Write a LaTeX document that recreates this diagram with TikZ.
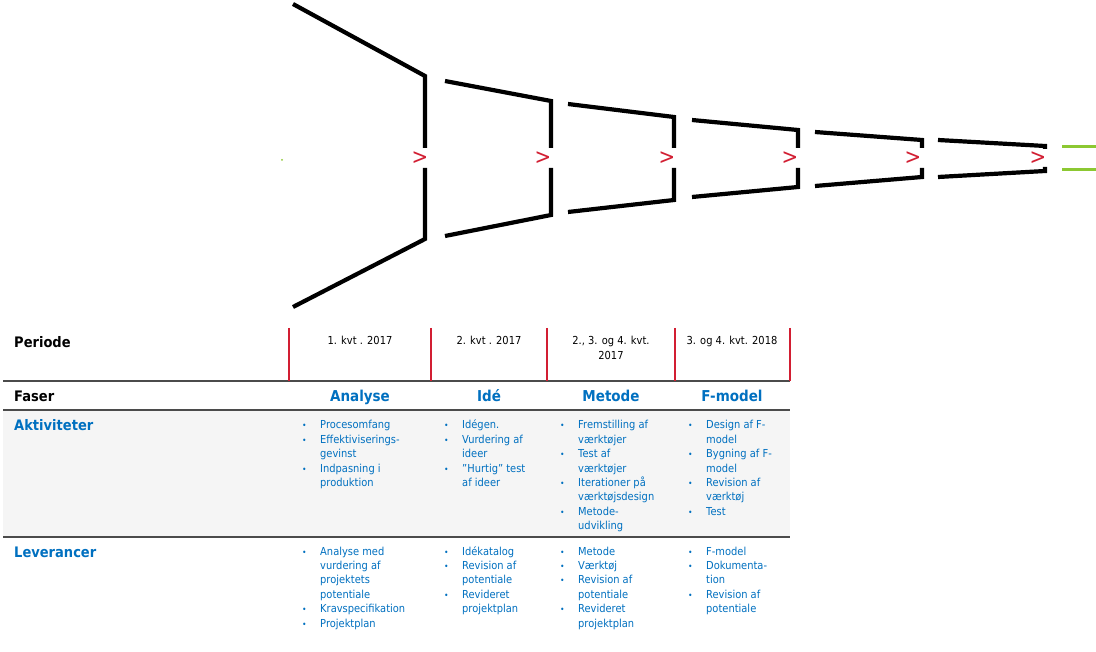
\documentclass[tikz,border=0pt]{standalone}
\usepackage{fontspec}
\setmainfont[FakeStretch=0.9]{DejaVu Sans}
\usepackage{xcolor}
\usetikzlibrary{positioning}

\definecolor{phaseblue}{RGB}{0,112,192}
\definecolor{gatered}{RGB}{210,30,50}
\definecolor{rulegray}{RGB}{75,75,75}
\definecolor{rowgray}{RGB}{245,245,245}
\definecolor{exitgreen}{RGB}{140,200,50}

\newcommand{\bul}{\makebox[0pt][r]{{\fontsize{8.5}{8.5}\selectfont •}\hspace{13.5pt}}}
\newcommand{\celltxt}[1]{\begin{tabular}[t]{@{}l@{}}#1\end{tabular}}
\newcommand{\celltwo}[1]{\begin{tabular}[t]{@{}c@{}}#1\end{tabular}}

\begin{document}
\begin{tikzpicture}[x=1pt, y=-1pt,
    funnel/.style={line width=4.2pt, line join=miter},
    gate/.style={text=gatered, inner sep=0pt, font=\fontsize{22}{22}\selectfont},
    rowrule/.style={rulegray, line width=2.8pt},
    quarter/.style={gatered, line width=1.2pt},
    rowhead/.style={anchor=base west, inner sep=0pt, font=\bfseries\fontsize{14.5}{14.5}\selectfont},
    phase/.style={anchor=base, inner sep=0pt, text=phaseblue, font=\bfseries\fontsize{15}{15}\selectfont},
    period/.style={anchor=base, inner sep=0pt, font=\fontsize{11}{15}\selectfont},
    items/.style={anchor=base west, inner sep=0pt, text=phaseblue, font=\fontsize{11}{14.4}\selectfont}]

    \fill[white] (0,0) rectangle (1096,652);
    \useasboundingbox (0,0) rectangle (1096,652);

    % funnel
    \draw[funnel] (293,4) -- (425,76) -- (425,148);
    \draw[funnel] (425,168) -- (425,239) -- (293,307);
    \draw[funnel] (445,81) -- (551,101) -- (551,148);
    \draw[funnel] (551,168) -- (551,215) -- (445,236);
    \draw[funnel] (568,104) -- (674,117) -- (674,148);
    \draw[funnel] (674,168) -- (674,200) -- (568,212);
    \draw[funnel] (692,120) -- (798,130) -- (798,148);
    \draw[funnel] (798,168) -- (798,187) -- (692,197);
    \draw[funnel] (815,132) -- (922,140) -- (922,148);
    \draw[funnel] (922,168) -- (922,177) -- (815,186);
    \draw[funnel] (938,140) -- (1045,146) -- (1045,149);
    \draw[funnel] (1045,167) -- (1045,171) -- (938,177);

    \foreach \x [count=\i] in {420,543,667,790,913,1038}
        \node[gate] (gate\i) at (\x,158) {>};

    \fill[exitgreen] (282,160) circle (1pt);
    \draw[exitgreen, line width=3pt] (1062,147) -- (1096,147);
    \draw[exitgreen, line width=3pt] (1062,170) -- (1096,170);

    % table
    \fill[rowgray] (3,410) rectangle (790,537);
    \draw[rowrule] (3,381) -- (790,381);
    \draw[rowrule] (3,410) -- (790,410);
    \draw[rowrule] (3,537) -- (790,537);
    \foreach \x in {289,431,547,675,790}
        \draw[quarter] (\x,328) -- (\x,381);

    \node[rowhead] (periode) at (14,348) {Periode};
    \node[rowhead] (faser) at (14,402) {Faser};
    \node[rowhead, text=phaseblue] (aktiv) at (14,431) {Aktiviteter};
    \node[rowhead, text=phaseblue] (lever) at (14,557) {Leverancer};

    \node[period] (q1) at (360,345) {1. kvt . 2017};
    \node[period] (q2) at (489,345) {2. kvt . 2017};
    \node[period] (q3) at (611,345) {\celltwo{2., 3. og 4. kvt.\\2017}};
    \node[period] (q4) at (732,345) {3. og 4. kvt. 2018};

    \node[phase] (analyse) at (360,402) {Analyse};
    \node[phase] (ide) at (489,402) {Idé};
    \node[phase] (metode) at (611,402) {Metode};
    \node[phase] (fmodel) at (732,402) {F-model};

    \node[items] (akt1) at (320,429) {\celltxt{\bul Procesomfang\\ \bul Effektiviserings-\\ gevinst\\ \bul Indpasning i\\ produktion}};
    \node[items] (akt2) at (462,429) {\celltxt{\bul Idégen.\\ \bul Vurdering af\\ ideer\\ \bul ”Hurtig” test\\ af ideer}};
    \node[items] (akt3) at (578,429) {\celltxt{\bul Fremstilling af\\ værktøjer\\ \bul Test af\\ værktøjer\\ \bul Iterationer på\\ værktøjsdesign\\ \bul Metode-\\ udvikling}};
    \node[items] (akt4) at (706,429) {\celltxt{\bul Design af F-\\ model\\ \bul Bygning af F-\\ model\\ \bul Revision af\\ værktøj\\ \bul Test}};

    \node[items] (lev1) at (320,555) {\celltxt{\bul Analyse med\\ vurdering af\\ projektets\\ potentiale\\ \bul Kravspecifikation\\ \bul Projektplan}};
    \node[items] (lev2) at (462,555) {\celltxt{\bul Idékatalog\\ \bul Revision af\\ potentiale\\ \bul Revideret\\ projektplan}};
    \node[items] (lev3) at (578,555) {\celltxt{\bul Metode\\ \bul Værktøj\\ \bul Revision af\\ potentiale\\ \bul Revideret\\ projektplan}};
    \node[items] (lev4) at (706,555) {\celltxt{\bul F-model\\ \bul Dokumenta-\\ tion\\ \bul Revision af\\ potentiale}};
\end{tikzpicture}
\end{document}
